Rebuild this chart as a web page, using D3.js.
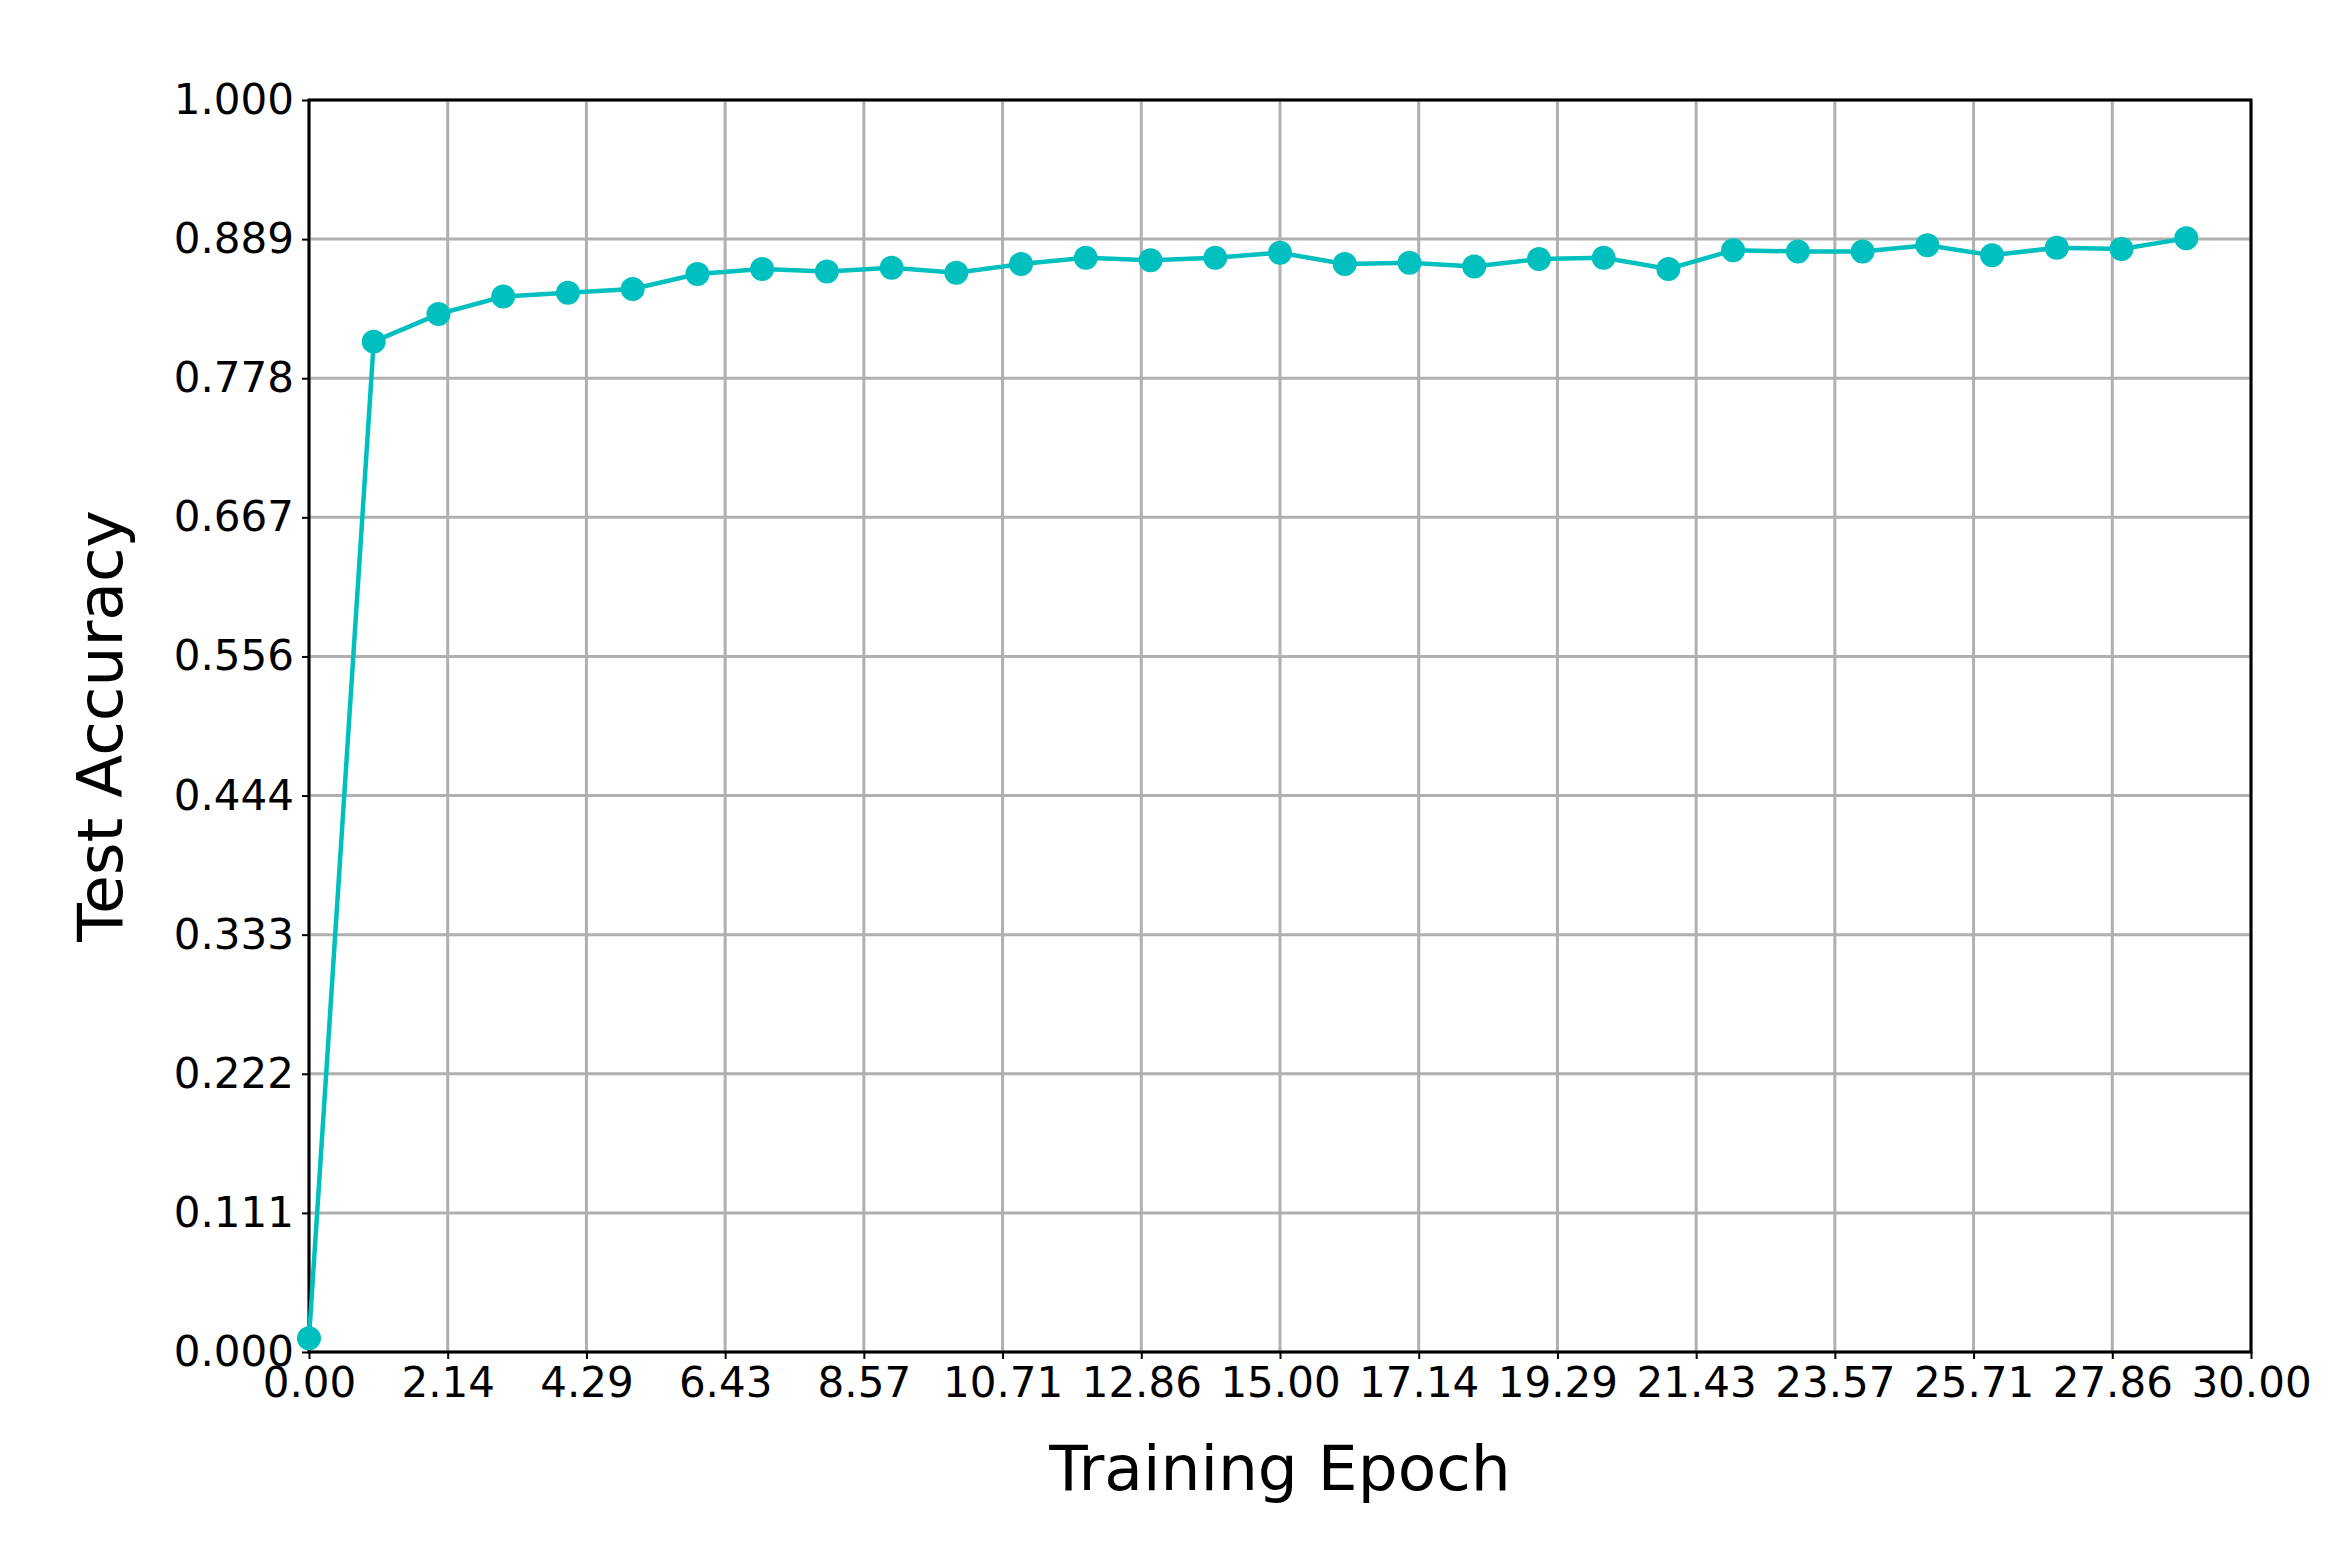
<!DOCTYPE html>
<html>
<head>
<meta charset="utf-8">
<script src="https://cdn.jsdelivr.net/npm/d3@7"></script>
<style>
  body { margin: 0; background: #fff; }
  text { font-family: "DejaVu Sans", sans-serif; }
</style>
</head>
<body>
<div id="chart"></div>
<script>
// epochs and test accuracy
const epochs = d3.range(0, 30);
const accuracy = [0.011, 0.807, 0.829, 0.843, 0.846, 0.849, 0.861, 0.865, 0.863, 0.866,
                  0.862, 0.869, 0.874, 0.872, 0.874, 0.878, 0.869, 0.870, 0.867, 0.873,
                  0.874, 0.865, 0.880, 0.879, 0.879, 0.884, 0.876, 0.882, 0.881, 0.8895];
const xTicks = d3.range(0, 15).map(i => i * 30 / 14);
const yTicks = d3.range(0, 10).map(i => i / 9);

const width = 2352, height = 1545;
const margin = {top: 100, right: 101, bottom: 193, left: 309};
const chartWidth = width - margin.left - margin.right;
const chartHeight = height - margin.top - margin.bottom;

const svg = d3.select('#chart').append('svg')
    .attr('width', width).attr('height', height);
const chart = svg.append('g')
    .attr('transform', `translate(${margin.left},${margin.top})`);

const scaleX = d3.scaleLinear([0, 30], [0, chartWidth]);
const scaleY = d3.scaleLinear([0, 1], [chartHeight, 0]);

// grid
chart.append('g').selectAll('line.gx').data(xTicks).join('line')
    .attr('x1', d => scaleX(d)).attr('x2', d => scaleX(d))
    .attr('y1', 0).attr('y2', chartHeight)
    .attr('stroke', '#b0b0b0').attr('stroke-width', 3);
chart.append('g').selectAll('line.gy').data(yTicks).join('line')
    .attr('y1', d => scaleY(d)).attr('y2', d => scaleY(d))
    .attr('x1', 0).attr('x2', chartWidth)
    .attr('stroke', '#b0b0b0').attr('stroke-width', 3);

// axes
const axisX = chart.append('g')
    .attr('transform', `translate(0,${chartHeight})`)
    .call(d3.axisBottom(scaleX).tickValues(xTicks).tickFormat(d3.format('.2f')).tickSize(7).tickPadding(8));
const axisY = chart.append('g')
    .call(d3.axisLeft(scaleY).tickValues(yTicks).tickFormat(d3.format('.3f')).tickSize(7).tickPadding(8));
[axisX, axisY].forEach(a => {
  a.select('.domain').remove();
  a.selectAll('line').attr('stroke', '#000').attr('stroke-width', 2);
  a.selectAll('text').attr('font-size', 42).attr('fill', '#000')
    .attr('font-family', '"DejaVu Sans", sans-serif');
});

// frame
chart.append('rect').attr('width', chartWidth).attr('height', chartHeight)
    .attr('fill', 'none').attr('stroke', '#000').attr('stroke-width', 3);

// line + markers
const pts = epochs.map((e, i) => [e, accuracy[i]]);
chart.append('path').datum(pts)
    .attr('fill', 'none').attr('stroke', '#00bfbf').attr('stroke-width', 4.5)
    .attr('d', d3.line().x(d => scaleX(d[0])).y(d => scaleY(d[1])));
chart.selectAll('circle').data(pts).join('circle')
    .attr('cx', d => scaleX(d[0])).attr('cy', d => scaleY(d[1]))
    .attr('r', 12).attr('fill', '#00bfbf');

// labels
svg.append('text')
    .attr('x', margin.left + chartWidth / 2).attr('y', 1490)
    .attr('text-anchor', 'middle').attr('font-size', 63)
    .text('Training Epoch');
svg.append('text')
    .attr('transform', `translate(122,${margin.top + chartHeight / 2}) rotate(-90)`)
    .attr('text-anchor', 'middle').attr('font-size', 63)
    .text('Test Accuracy');
</script>
</body>
</html>
